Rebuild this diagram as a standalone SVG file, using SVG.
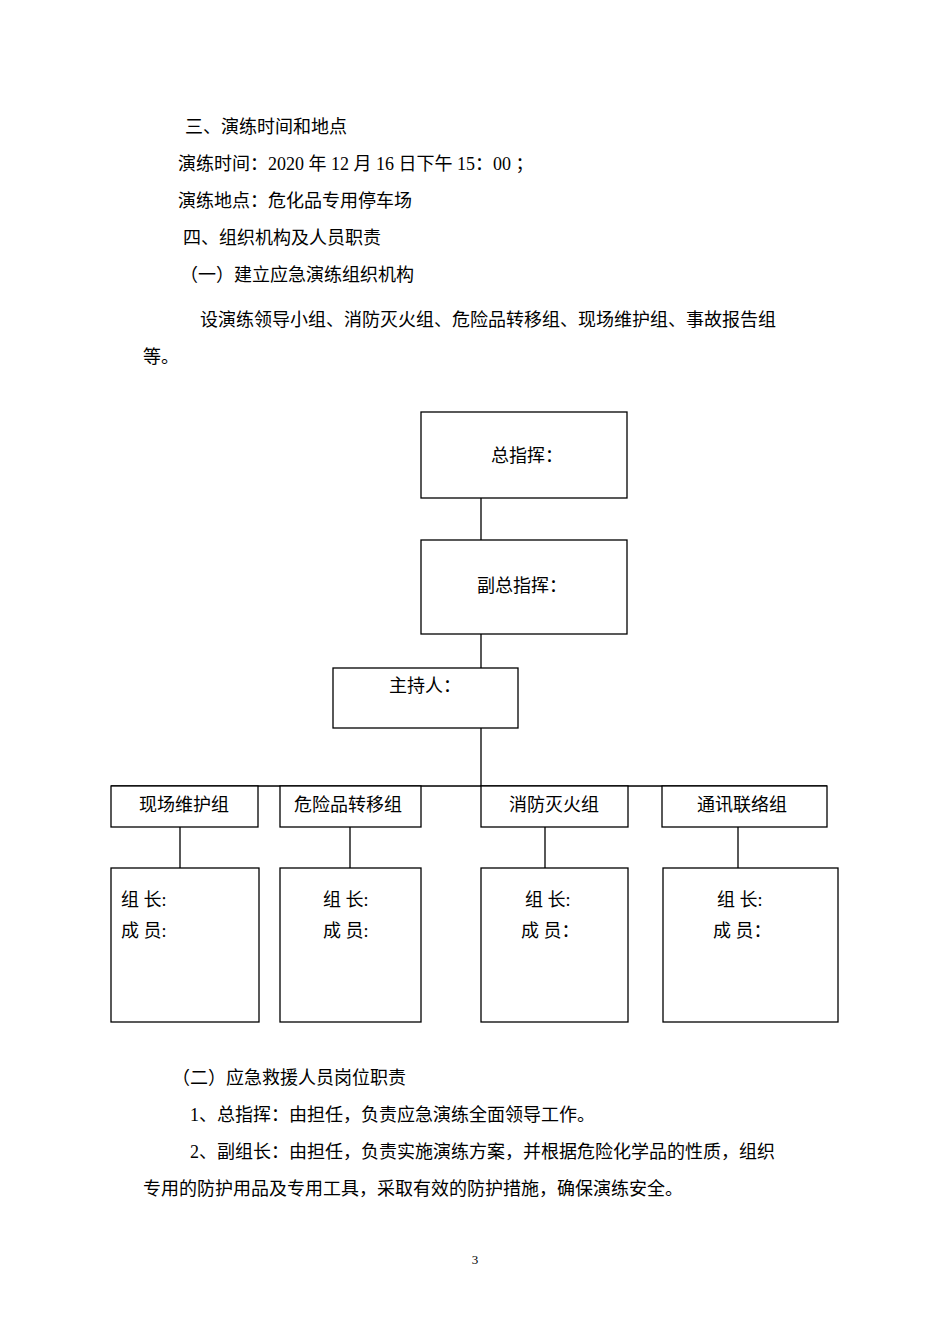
<svg xmlns="http://www.w3.org/2000/svg" width="950" height="1344" viewBox="0 0 950 1344">
<style>
text{font-family:"Liberation Serif","Noto Sans CJK SC",serif;font-size:18px;fill:#000}
.b{fill:#fff;stroke:#000;stroke-width:1.3}
.l{stroke:#000;stroke-width:1.3;fill:none}
</style>
<rect width="950" height="1344" fill="#fff"/>
<text x="185" y="133">三、演练时间和地点</text>
<text x="178" y="170">演练时间：2020 年 12 月 16 日下午 15：00 ；</text>
<text x="178" y="207">演练地点：危化品专用停车场</text>
<text x="183" y="244">四、组织机构及人员职责</text>
<text x="180" y="281">（一）建立应急演练组织机构</text>
<text x="200" y="326">设演练领导小组、消防灭火组、危险品转移组、现场维护组、事故报告组</text>
<text x="143" y="363">等。</text>
<g id="connectors">
<path class="l" d="M481 498V540M481 634V668M481 728V786M111 786H827M180 827V868M350 827V868M545 827V868M738 827V868"/>
</g>
<g id="n1"><rect class="b" x="421" y="412" width="206" height="86"/><text x="491" y="462">总指挥：</text></g>
<g id="n2"><rect class="b" x="421" y="540" width="206" height="94"/><text x="477" y="592">副总指挥：</text></g>
<g id="n3"><rect class="b" x="333" y="668" width="185" height="60"/><text x="389" y="692">主持人：</text></g>
<g id="g1"><rect class="b" x="111" y="786" width="147" height="41"/><text x="139" y="811">现场维护组</text></g>
<g id="g2"><rect class="b" x="280" y="786" width="141" height="41"/><text x="294" y="811">危险品转移组</text></g>
<g id="g3"><rect class="b" x="481" y="786" width="147" height="41"/><text x="509" y="811">消防灭火组</text></g>
<g id="g4"><rect class="b" x="662" y="786" width="165" height="41"/><text x="697" y="811">通讯联络组</text></g>
<g id="m1"><rect class="b" x="111" y="868" width="148" height="154"/><text x="121" y="906">组  长:</text><text x="121" y="937">成  员:</text></g>
<g id="m2"><rect class="b" x="280" y="868" width="141" height="154"/><text x="323" y="906">组  长:</text><text x="323" y="937">成  员:</text></g>
<g id="m3"><rect class="b" x="481" y="868" width="147" height="154"/><text x="525" y="906">组  长:</text><text x="521" y="937">成  员：</text></g>
<g id="m4"><rect class="b" x="663" y="868" width="175" height="154"/><text x="717" y="906">组    长:</text><text x="713" y="937">成    员：</text></g>
<text x="172" y="1084">（二）应急救援人员岗位职责</text>
<text x="190" y="1121">1、总指挥：由担任，负责应急演练全面领导工作。</text>
<text x="190" y="1158">2、副组长：由担任，负责实施演练方案，并根据危险化学品的性质，组织</text>
<text x="143" y="1195">专用的防护用品及专用工具，采取有效的防护措施，确保演练安全。</text>
<text x="475" y="1264" style="font-size:13px" text-anchor="middle">3</text>
</svg>
